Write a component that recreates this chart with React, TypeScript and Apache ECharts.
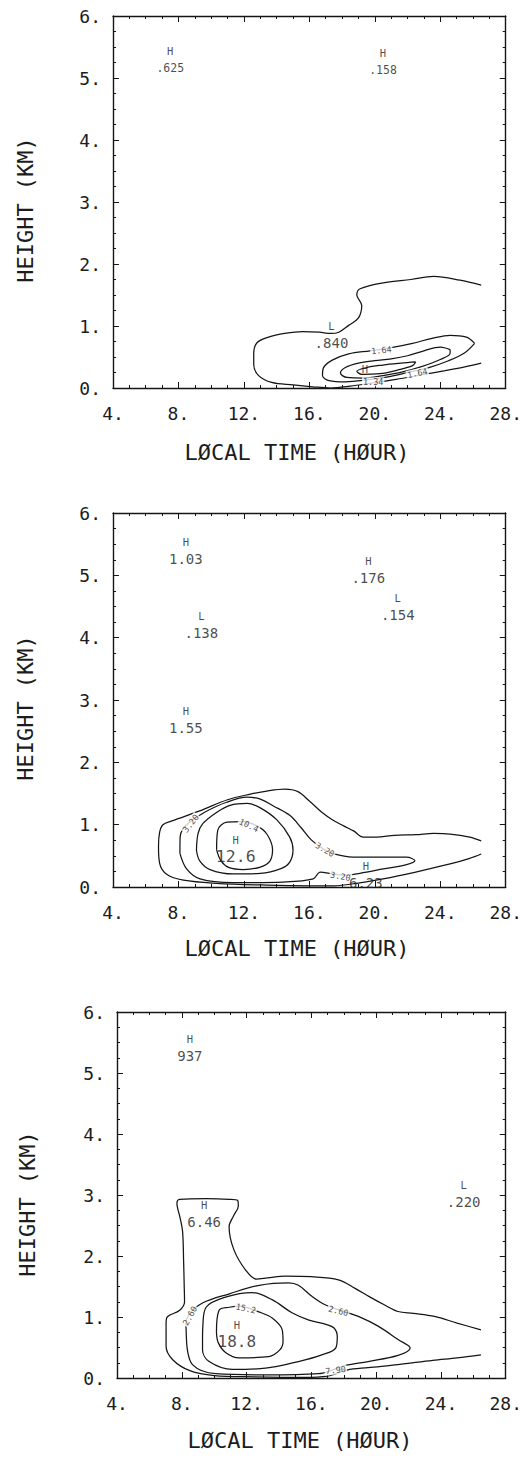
import { useEffect, useRef } from 'react';
import * as echarts from 'echarts';

type Pt = [number, number];

// ---------- axes ----------
const X_MIN = 4;
const X_MAX = 28;
const X_STEP = 4;
const Y_MIN = 0;
const Y_MAX = 6;
const Y_STEP = 1;
const X_TITLE = 'LØCAL TIME (HØUR)';
const Y_TITLE = 'HEIGHT (KM)';

// ---------- panel 1 ----------
const P1_C1: Pt[] = [[26.5,1.66],[25.2,1.74],[23.6,1.8],[22.2,1.75],[20.6,1.7],[19.1,1.6],[18.9,1.5],[19.2,1.33],[19.0,1.13],[18.4,1.01],[17.8,0.9],[17.3,0.88],[16.6,0.9],[15.6,0.91],[14.5,0.88],[13.5,0.82],[12.8,0.73],[12.6,0.56],[12.6,0.38],[12.9,0.2],[13.7,0.09],[15.0,0.05],[16.2,0.02],[17.3,0.0],[18.5,0.03],[19.8,0.08],[21.3,0.14],[22.8,0.21],[24.3,0.28],[25.5,0.34],[26.5,0.4]];
const P1_C2: Pt[] = [[26.1,0.72],[25.6,0.82],[24.6,0.85],[23.5,0.8],[22.3,0.72],[21.0,0.65],[19.7,0.6],[18.4,0.55],[17.4,0.45],[16.85,0.32],[16.8,0.2],[17.2,0.12],[18.2,0.1],[19.5,0.13],[20.8,0.18],[22.0,0.25],[23.3,0.33],[24.5,0.44],[25.5,0.57],[26.1,0.72]];
const P1_C3: Pt[] = [[24.6,0.62],[24.0,0.66],[23.0,0.6],[22.0,0.52],[21.0,0.47],[20.0,0.44],[19.0,0.4],[18.2,0.33],[17.9,0.24],[18.3,0.17],[19.3,0.16],[20.5,0.2],[21.7,0.26],[22.9,0.35],[24.0,0.46],[24.6,0.56],[24.6,0.62]];
const P1_C4: Pt[] = [[22.5,0.42],[21.6,0.4],[20.5,0.37],[19.5,0.33],[18.9,0.27],[19.2,0.22],[20.3,0.23],[21.4,0.29],[22.3,0.36],[22.5,0.42]];
// [kind, value, x, y]
const P1_EXT: [string, string, number, number][] = [['H','.625',7.5,5.285],['H','.158',20.5,5.255],['L','.840',17.35,0.86],['H','',19.4,0.31]];
// [text, x, y]
const P1_CLAB: [string, number, number][] = [['1.64',20.4,0.61],['1.64',22.6,0.24],['1.34',19.9,0.1]];

// ---------- panel 2 ----------
const P2_C1: Pt[] = [[26.5,0.74],[25.8,0.8],[24.6,0.85],[23.6,0.86],[22.5,0.84],[21.2,0.83],[20.1,0.8],[19.3,0.8],[18.7,0.9],[18.1,0.98],[17.4,1.08],[16.8,1.19],[16.0,1.38],[15.3,1.53],[14.5,1.57],[13.4,1.54],[12.4,1.49],[11.0,1.4],[9.3,1.22],[7.6,1.06],[7.05,1.0],[6.85,0.88],[6.78,0.65],[6.85,0.38],[7.3,0.2],[8.3,0.11],[10.3,0.06],[13.4,0.03],[16.0,0.02],[17.5,0.02],[18.9,0.06],[20.5,0.13],[22.5,0.24],[24.6,0.37],[25.8,0.46],[26.5,0.53]];
const P2_C2: Pt[] = [[8.09,0.54],[8.1,0.8],[8.27,0.93],[8.8,1.06],[9.6,1.2],[10.94,1.36],[12.2,1.44],[13.0,1.41],[13.8,1.3],[14.8,1.15],[15.5,0.95],[16.1,0.76],[16.8,0.62],[17.5,0.53],[18.68,0.48],[20.52,0.48],[21.94,0.48],[22.45,0.42],[21.94,0.36],[20.52,0.29],[19.09,0.22],[18.28,0.19],[17.46,0.21],[16.65,0.24],[16.24,0.13],[14.4,0.08],[11.35,0.07],[9.32,0.13],[8.5,0.29],[8.09,0.54]];
const P2_C3: Pt[] = [[9.1,0.59],[9.2,0.86],[9.5,1.02],[10.35,1.2],[11.15,1.31],[12.2,1.34],[13.0,1.27],[14.0,1.08],[14.8,0.8],[15.0,0.59],[14.8,0.4],[14.3,0.3],[13.0,0.22],[11.35,0.21],[9.93,0.28],[9.3,0.42],[9.1,0.59]];
const P2_C4: Pt[] = [[10.33,0.6],[10.4,0.91],[10.96,1.04],[11.94,1.05],[12.8,0.98],[13.4,0.85],[13.75,0.6],[13.6,0.42],[13.0,0.32],[11.96,0.28],[11.1,0.31],[10.6,0.42],[10.33,0.6]];
const P2_EXT: [string, string, number, number][] = [['H','1.03',8.45,5.385],['L','.138',9.4,4.205],['H','1.55',8.45,2.675],['H','.176',19.6,5.085],['L','.154',21.4,4.5],['H','12.6',11.5,0.615],['H','6.23',19.45,0.19]];
const P2_CLAB: [string, number, number][] = [['3.20',8.75,1.02],['10.4',12.3,0.99],['3.20',16.95,0.6],['3.20',17.9,0.17]];

// ---------- panel 3 ----------
const P3_C1: Pt[] = [[26.47,0.79],[25.0,0.9],[23.6,1.01],[22.3,1.06],[21.35,1.09],[20.5,1.2],[19.6,1.33],[18.7,1.47],[17.67,1.61],[16.0,1.66],[14.4,1.67],[13.3,1.64],[12.6,1.62],[11.94,1.77],[11.22,2.1],[10.92,2.48],[11.2,2.66],[11.49,2.82],[11.45,2.91],[10.9,2.93],[9.5,2.94],[7.85,2.93],[7.7,2.87],[7.9,2.62],[8.05,2.4],[8.11,1.94],[8.15,1.5],[8.17,1.25],[7.87,1.11],[7.1,1.0],[7.03,0.9],[7.03,0.52],[7.44,0.3],[8.5,0.12],[10.0,0.04],[12.5,0.02],[15.5,0.01],[17.0,0.03],[18.2,0.13],[19.5,0.17],[21.35,0.22],[23.5,0.29],[25.0,0.33],[26.47,0.38]];
const P3_C2: Pt[] = [[8.3,0.57],[8.26,0.9],[8.5,1.06],[9.28,1.23],[10.94,1.38],[12.78,1.52],[14.6,1.56],[15.2,1.52],[16.03,1.34],[16.85,1.2],[17.9,1.1],[18.9,1.01],[20.12,0.85],[21.35,0.63],[22.1,0.49],[21.35,0.37],[19.5,0.27],[18.0,0.2],[17.2,0.12],[16.44,0.07],[13.17,0.05],[10.1,0.07],[8.66,0.22],[8.3,0.57]];
const P3_C3: Pt[] = [[9.28,0.63],[9.3,0.85],[9.5,1.16],[10.75,1.33],[12.35,1.4],[13.6,1.28],[14.8,1.07],[15.85,0.95],[16.9,0.88],[17.4,0.82],[17.6,0.68],[17.5,0.49],[16.64,0.38],[15.2,0.27],[13.17,0.16],[11.12,0.14],[9.69,0.27],[9.28,0.46],[9.28,0.63]];
const P3_C4: Pt[] = [[10.14,0.75],[10.3,1.11],[10.94,1.16],[11.55,1.18],[12.8,1.08],[13.6,0.98],[14.2,0.79],[14.25,0.6],[14.05,0.46],[13.37,0.35],[11.53,0.33],[10.7,0.42],[10.25,0.58],[10.14,0.75]];
const P3_EXT: [string, string, number, number][] = [['H','937',8.5,5.415],['L','.220',25.4,3.015],['H','6.46',9.38,2.685],['H','18.8',11.4,0.725]];
const P3_CLAB: [string, number, number][] = [['2.60',8.5,1.02],['15.2',11.95,1.14],['2.60',17.67,1.1],['7.90',17.5,0.13]];

// ---------- styles / layout (not data) ----------
const EXT_VALUE_FONT = [[11.5, 11.5, 14, 11.5], [14, 14, 14, 14, 14, 16.5, 14], [14, 14, 14, 16]];
const CLAB_ANGLE = [[6, 12, 0], [52, -25, -30, -10], [60, -12, -15, 6]];
const GRIDS = [
  { left: 113, top: 16, width: 393, height: 372 },
  { left: 113, top: 513, width: 393, height: 374 },
  { left: 117, top: 1012, width: 391, height: 366 },
];
const X_TITLE_POS = [[297, 452], [297, 948], [300, 1440]];
const Y_TITLE_POS = [[25, 210], [25, 708], [27, 1204]];

const FONT = '"DejaVu Sans Mono", monospace';
const INK = '#151515';
const TXT = '#1c1c1c';

const PANELS = [
  { contours: [P1_C1, P1_C2, P1_C3, P1_C4], ext: P1_EXT, clab: P1_CLAB },
  { contours: [P2_C1, P2_C2, P2_C3, P2_C4], ext: P2_EXT, clab: P2_CLAB },
  { contours: [P3_C1, P3_C2, P3_C3, P3_C4], ext: P3_EXT, clab: P3_CLAB },
];

function axisCommon() {
  return {
    type: 'value',
    splitLine: { show: false },
    axisLine: { show: true, onZero: false, lineStyle: { color: INK, width: 1.4 } },
    axisTick: { show: true, inside: true, length: 6, lineStyle: { color: INK, width: 1 } },
    minorTick: { show: true, splitNumber: 4, length: 3, lineStyle: { color: INK, width: 1 } },
  };
}

export default function App() {
  const ref = useRef<HTMLDivElement>(null);
  useEffect(() => {
    document.body.style.margin = '0';
    if (!ref.current) return;
    const chart = echarts.init(ref.current, null, { renderer: 'svg' });
    const xAxis: any[] = [];
    const yAxis: any[] = [];
    const series: any[] = [];
    const graphic: any[] = [];
    const hidden = { symbolSize: 1, itemStyle: { color: 'rgba(255,255,255,0)' }, silent: true };
    PANELS.forEach((p, i) => {
      const lab = { show: true, fontFamily: FONT, fontSize: 18, color: TXT, formatter: (v: number) => `${v}.`, showMinLabel: true, showMaxLabel: true };
      xAxis.push({ ...axisCommon(), gridIndex: i, min: X_MIN, max: X_MAX, interval: X_STEP, position: 'bottom', axisLabel: { ...lab, margin: 16 } });
      xAxis.push({ ...axisCommon(), gridIndex: i, min: X_MIN, max: X_MAX, interval: X_STEP, position: 'top', axisLabel: { show: false } });
      yAxis.push({ ...axisCommon(), gridIndex: i, min: Y_MIN, max: Y_MAX, interval: Y_STEP, position: 'left', axisLabel: { ...lab, margin: 12 } });
      yAxis.push({ ...axisCommon(), gridIndex: i, min: Y_MIN, max: Y_MAX, interval: Y_STEP, position: 'right', axisLabel: { show: false } });
      p.contours.forEach((c) => {
        series.push({
          type: 'line', xAxisIndex: 2 * i, yAxisIndex: 2 * i, data: c,
          symbol: 'none', showSymbol: false, smooth: 0.35, silent: true, z: 2,
          lineStyle: { color: INK, width: 1.25 },
        });
      });
      // H / L letters
      series.push({
        type: 'scatter', xAxisIndex: 2 * i, yAxisIndex: 2 * i, z: 5, ...hidden,
        data: p.ext.map((e) => ({
          value: [e[2], e[3]], name: e[0],
          label: { offset: [0, e[1] ? -9 : 0] },
        })),
        label: { show: true, position: 'inside', formatter: '{b}', color: TXT, fontFamily: FONT, fontSize: 10.5 },
      });
      // extremum values
      series.push({
        type: 'scatter', xAxisIndex: 2 * i, yAxisIndex: 2 * i, z: 5, ...hidden,
        data: p.ext
          .map((e, j) => ({ value: [e[2], e[3]], name: e[1], label: { fontSize: EXT_VALUE_FONT[i][j], offset: [0, 8] } }))
          .filter((d) => d.name !== ''),
        label: { show: true, position: 'inside', formatter: '{b}', color: TXT, fontFamily: FONT, fontSize: 14 },
      });
      // contour-line labels
      series.push({
        type: 'scatter', xAxisIndex: 2 * i, yAxisIndex: 2 * i, z: 4, ...hidden,
        data: p.clab.map((c, j) => ({ value: [c[1], c[2]], name: c[0], label: { rotate: CLAB_ANGLE[i][j] } })),
        label: {
          show: true, position: 'inside', formatter: '{b}',
          fontFamily: FONT, fontSize: 8.5, color: TXT, backgroundColor: '#fff', padding: [0, 1],
        },
      });
      graphic.push({
        type: 'text', x: X_TITLE_POS[i][0], y: X_TITLE_POS[i][1],
        style: { text: X_TITLE, fontFamily: FONT, fontSize: 22, fill: TXT, align: 'center', verticalAlign: 'middle' },
      });
      graphic.push({
        type: 'text', x: Y_TITLE_POS[i][0], y: Y_TITLE_POS[i][1], rotation: Math.PI / 2,
        style: { text: Y_TITLE, fontFamily: FONT, fontSize: 22, fill: TXT, align: 'center', verticalAlign: 'middle' },
      });
    });
    chart.setOption({
      animation: false,
      backgroundColor: '#fff',
      grid: GRIDS,
      xAxis,
      yAxis,
      series,
      graphic,
    });
    return () => chart.dispose();
  }, []);
  return <div ref={ref} style={{ width: 525, height: 1457 }} />;
}
